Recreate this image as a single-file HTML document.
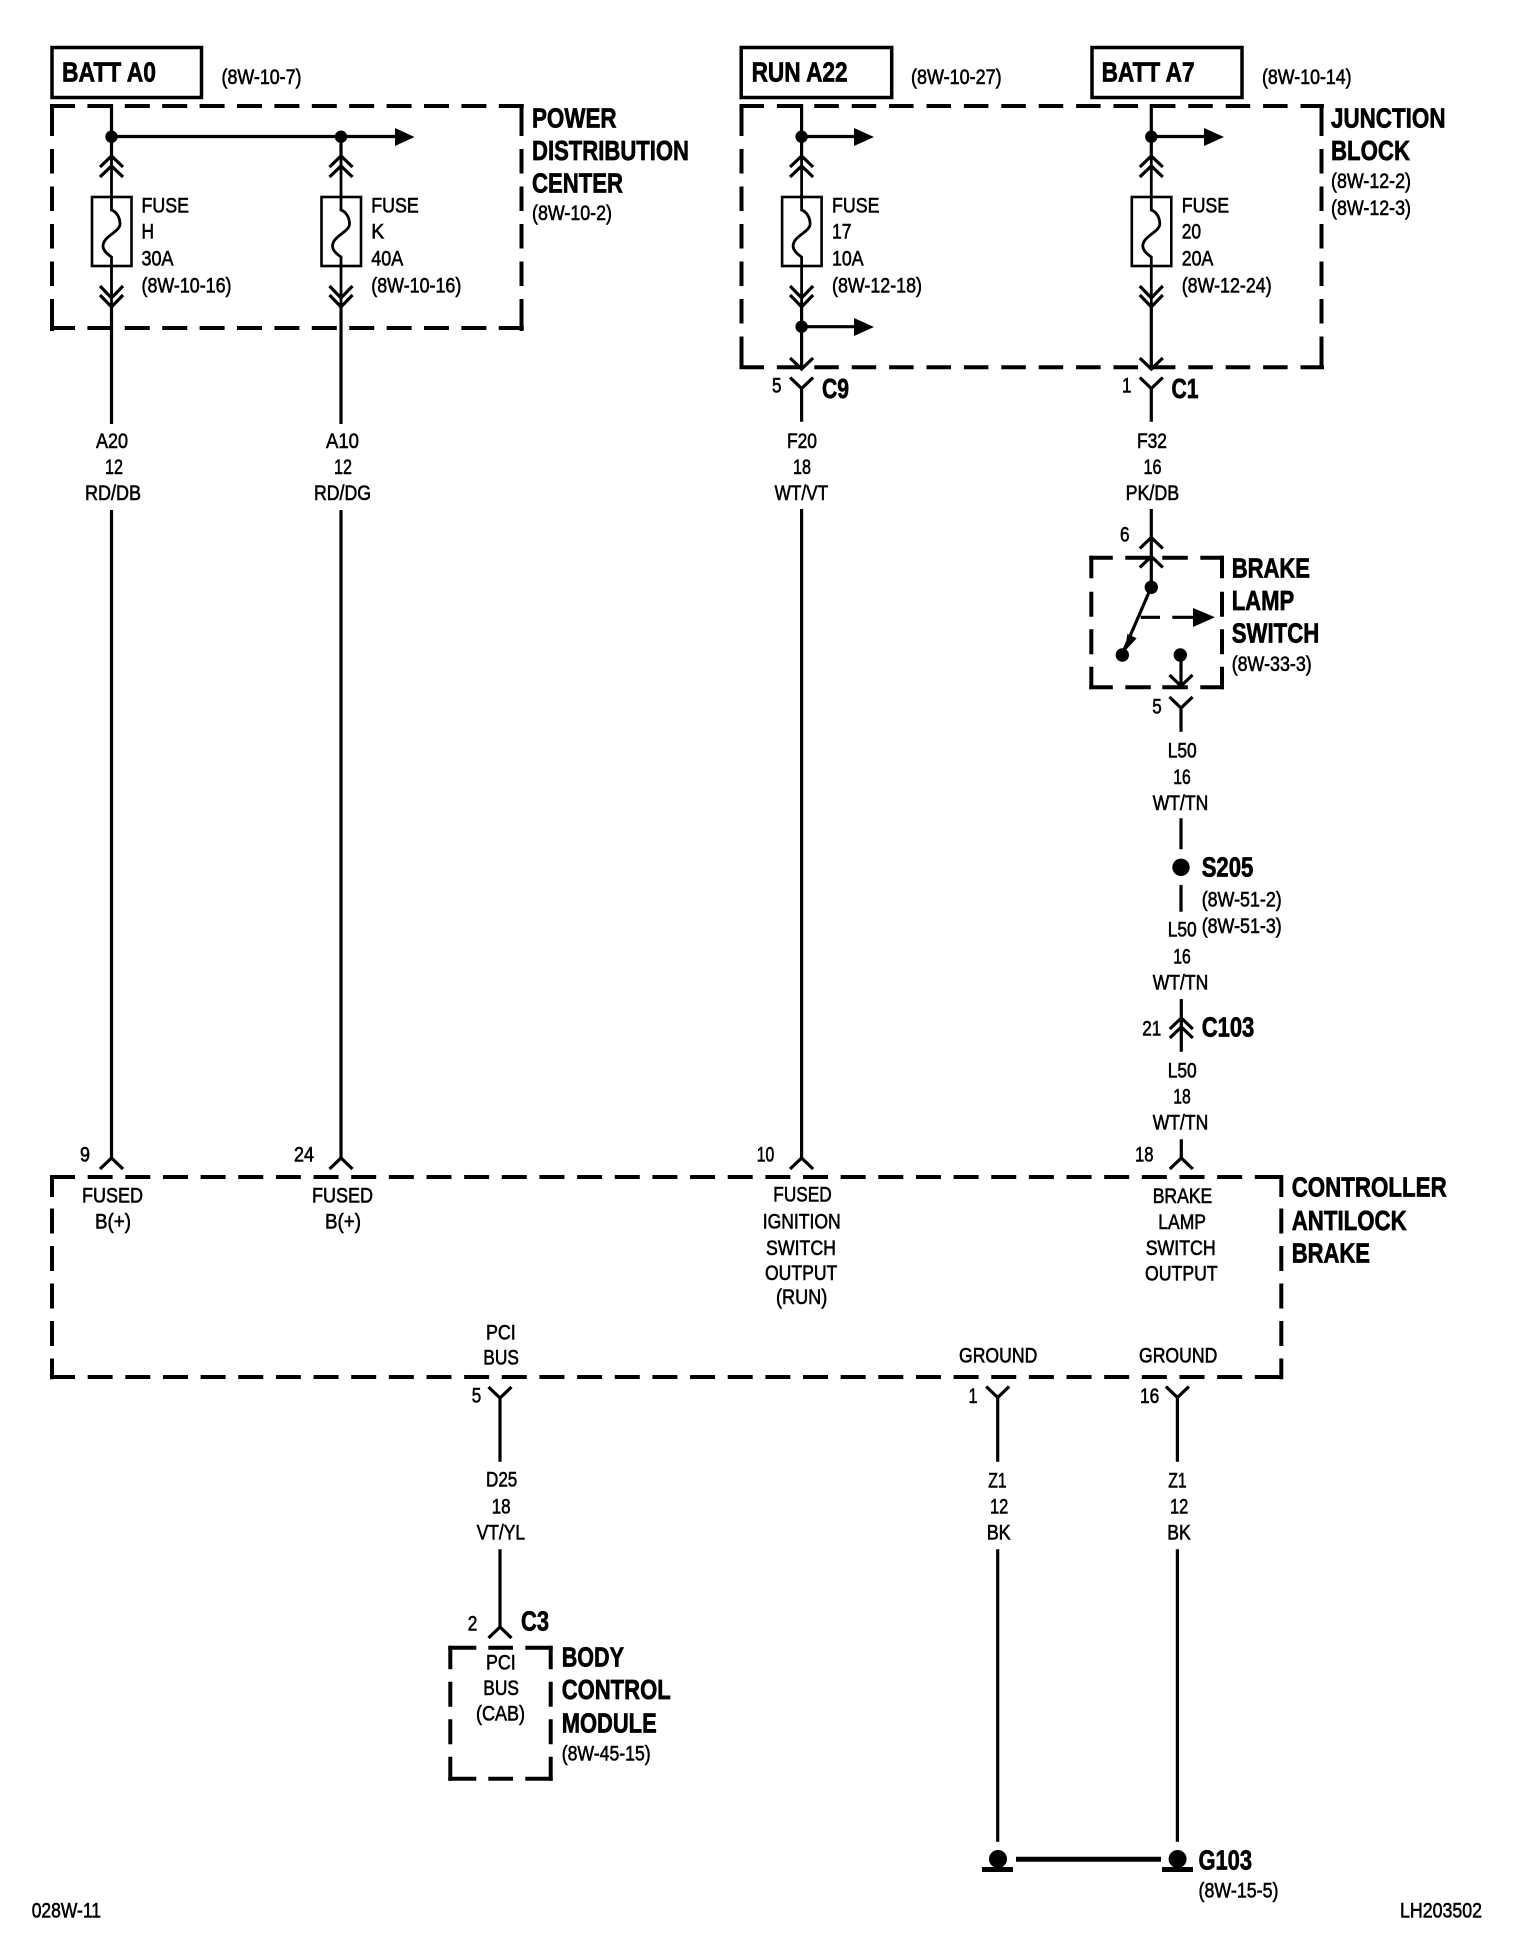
<!DOCTYPE html>
<html><head><meta charset="utf-8"><title>Wiring diagram</title>
<style>
html,body{margin:0;padding:0;background:#fff}
svg{display:block}
text{font-family:"Liberation Sans",Arial,sans-serif;fill:#000}
.b{font-weight:700;font-size:28px;stroke:#000;stroke-width:.7px}
.r{font-size:21.5px;stroke:#000;stroke-width:.6px}
.w{fill:none;stroke:#000;stroke-width:3.200}
.t{fill:none;stroke:#000;stroke-width:4}
</style></head><body>
<svg width="1520" height="1946" viewBox="0 0 1520 1946" xmlns="http://www.w3.org/2000/svg">
<defs>
<path id="u" d="M-11.5 11L0 0L11.5 11" fill="none" stroke="#000" stroke-width="3.200"/>
<path id="d" d="M-11.5 -11L0 0L11.5 -11" fill="none" stroke="#000" stroke-width="3.200"/>
<g id="f">
<rect x="-19.5" y="197" width="39.5" height="69" fill="#fff" stroke="#000" stroke-width="2.600"/>
<path d="M0 156V210C5.500 212 8.500 218 8.500 224C8.500 232-8.500 236-8.500 246C-8.500 250-4.500 254 0 257V307" fill="none" stroke="#000" stroke-width="2.800"/>
<path d="M-11.500 167L0 156L11.500 167M-11.500 177L0 166L11.500 177M-11.500 286L0 298L11.500 286M-11.500 295L0 307L11.500 295" fill="none" stroke="#000" stroke-width="3.200"/>
</g>
</defs>

<!-- top solid boxes -->
<rect x="52" y="47.500" width="149.500" height="50" fill="none" stroke="#000" stroke-width="3.500"/>
<rect x="741.200" y="47.500" width="150.500" height="50" fill="none" stroke="#000" stroke-width="3.500"/>
<rect x="1092" y="47.500" width="150" height="50" fill="none" stroke="#000" stroke-width="3.500"/>

<!-- PDC dashed -->
<path class="t" stroke-dasharray="25 12.4" d="M50 106H524"/>
<path class="t" stroke-dasharray="25 12.4" d="M50 328H524"/>
<path class="t" stroke-dasharray="32 13 24.5 13 24.5 13 24.5 13 24.5 13 32" d="M52 104V331"/>
<path class="t" stroke-dasharray="32 13 24.5 13 24.5 13 24.5 13 24.5 13 32" d="M521.500 104V331"/>

<!-- JB dashed -->
<path class="t" stroke-dasharray="24.5 12.9" d="M739.500 106H1324"/>
<path class="t" stroke-dasharray="24.5 12.9" d="M739.500 367.300H1324"/>
<path class="t" stroke-dasharray="32 13 24.5 13 24.5 13 24.5 13 24.5 13 24.5 13 32" d="M741.500 104V369.500"/>
<path class="t" stroke-dasharray="32 13 24.5 13 24.5 13 24.5 13 24.5 13 24.5 13 32" d="M1321.500 104V369.500"/>

<!-- Switch dashed -->
<path class="t" stroke-dasharray="23.5 12.5 25.500 11.500 25.500 12.500 24" d="M1089.300 557.700H1224"/>
<path class="t" stroke-dasharray="23.5 12.5 25.500 11.500 25.500 12.500 24" d="M1089.300 687.300H1224"/>
<path class="t" stroke-dasharray="22.500 13.500 25 12.500 25 12.500 23" d="M1091.300 555.700V689.300"/>
<path class="t" stroke-dasharray="22.500 13.500 25 12.500 25 12.500 23" d="M1222 555.700V689.300"/>

<!-- CAB dashed -->
<path class="t" stroke-dasharray="25 12.65" d="M50 1177H1283.300"/>
<path class="t" stroke-dasharray="25 12.65" d="M50 1377H1283.300"/>
<path class="t" stroke-dasharray="22 11.500 25 12.500 25 12.500 25 12.500 25 12.500 25" d="M52 1175V1379.300"/>
<path class="t" stroke-dasharray="22 11.500 25 12.500 25 12.500 25 12.500 25 12.500 25" d="M1281.300 1175V1379.300"/>

<!-- BCM dashed -->
<path class="t" stroke-dasharray="28 12 24.700 12.300 28" d="M448.300 1647.700H552.700"/>
<path class="t" stroke-dasharray="28 12 24.700 12.300 28" d="M448.300 1778.700H552.700"/>
<path class="t" stroke-dasharray="23.500 12.500 25 12.500 25 12.500 24" d="M450.300 1645.700V1780.700"/>
<path class="t" stroke-dasharray="23.500 12.500 25 12.500 25 12.500 24" d="M550.700 1645.700V1780.700"/>

<!-- wires -->
<path class="w" d="M111.500 104V156M341 136V156M111.500 307V424M341 307V424M111.500 510V1158M341 510V1158"/>
<path class="w" d="M111.500 136.500H396"/>
<path class="w" d="M801.600 104V156M801.600 307V369M801.600 389V421.700M801.600 509V1158"/>
<path class="w" d="M1151.300 104V156M1151.300 307V369M1151.300 389V421.700M1151.300 509V587"/>
<path class="w" d="M801.600 136.500H855M801.600 326.700H855M1151.300 136.500H1205"/>
<path class="w" d="M1181 655V685M1181 708V731.700M1181 818.300V849.300M1181 885V911.700M1181.300 999V1051.700M1181.300 1139.300V1158"/>
<path class="w" d="M1151.300 587L1124 650"/>
<path class="w" d="M1140.700 617.300H1160M1172.300 617.300H1194"/>
<path class="w" d="M500 1398V1461.700M500 1549.300V1627"/>
<path class="w" d="M997.700 1397V1461.700M997.700 1549.300V1841.700M1177.400 1397V1461.700M1177.400 1549.300V1841.700"/>
<path d="M1016 1859.300H1161" fill="none" stroke="#000" stroke-width="5"/>

<!-- fuses -->
<use href="#f" x="111.500"/>
<use href="#f" x="341"/>
<use href="#f" x="801.600"/>
<use href="#f" x="1151.300"/>

<!-- junction dots + arrowheads -->
<circle cx="111.500" cy="136.700" r="6.200"/>
<circle cx="341" cy="136.700" r="6.200"/>
<circle cx="801.600" cy="136.700" r="6.200"/>
<circle cx="801.600" cy="326.700" r="6.200"/>
<circle cx="1151.300" cy="136.700" r="6.200"/>
<path d="M395 128L414.500 137L395 146Z"/>
<path d="M854 128L874 137L854 146Z"/>
<path d="M854 318L874 327L854 336Z"/>
<path d="M1204 128L1224 137L1204 146Z"/>

<!-- connector chevrons -->
<use href="#d" x="801.600" y="369"/>
<use href="#d" x="801.600" y="388.500"/>
<use href="#d" x="1151.300" y="369"/>
<use href="#d" x="1151.300" y="388.500"/>
<use href="#u" x="1151.300" y="537.500"/>
<use href="#u" x="1151.300" y="556.500"/>
<use href="#d" x="1181" y="686"/>
<use href="#d" x="1181" y="708"/>
<use href="#u" x="1181.300" y="1018"/>
<use href="#u" x="1181.300" y="1027"/>
<use href="#u" x="111.500" y="1158"/>
<use href="#u" x="341" y="1158"/>
<use href="#u" x="801.600" y="1158"/>
<use href="#u" x="1181.300" y="1158"/>
<use href="#d" x="500" y="1398"/>
<use href="#d" x="997.700" y="1397.500"/>
<use href="#d" x="1177.400" y="1397.500"/>
<use href="#u" x="500" y="1627"/>

<!-- switch details -->
<circle cx="1151.300" cy="587.300" r="6.700"/>
<circle cx="1122.300" cy="655" r="6.700"/>
<circle cx="1180.300" cy="655" r="6.700"/>
<path d="M1125 651L1127.300 634L1136.700 638.300Z"/>
<path d="M1193 608L1215 617.300L1193 627Z"/>
<circle cx="1181" cy="867.300" r="8.700"/>

<!-- ground -->
<circle cx="998" cy="1859" r="9"/>
<rect x="982" y="1867" width="31" height="5"/>
<circle cx="1177.600" cy="1859" r="9"/>
<rect x="1162" y="1867" width="31" height="5"/>

<!-- bold titles -->
<text class="b" x="62" y="81.700" textLength="94" lengthAdjust="spacingAndGlyphs">BATT A0</text>
<text class="b" x="751.600" y="81.700" textLength="96" lengthAdjust="spacingAndGlyphs">RUN A22</text>
<text class="b" x="1101.600" y="81.700" textLength="93" lengthAdjust="spacingAndGlyphs">BATT A7</text>
<text class="b" x="532" y="127.300" textLength="84.600" lengthAdjust="spacingAndGlyphs">POWER</text>
<text class="b" x="532" y="160" textLength="157" lengthAdjust="spacingAndGlyphs">DISTRIBUTION</text>
<text class="b" x="532" y="192.300" textLength="91" lengthAdjust="spacingAndGlyphs">CENTER</text>
<text class="b" x="1331" y="127.300" textLength="114.500" lengthAdjust="spacingAndGlyphs">JUNCTION</text>
<text class="b" x="1331" y="160" textLength="79" lengthAdjust="spacingAndGlyphs">BLOCK</text>
<text class="b" x="822" y="398" textLength="27" lengthAdjust="spacingAndGlyphs">C9</text>
<text class="b" x="1171.500" y="398" textLength="27" lengthAdjust="spacingAndGlyphs">C1</text>
<text class="b" x="1231.700" y="577.700" textLength="78.300" lengthAdjust="spacingAndGlyphs">BRAKE</text>
<text class="b" x="1231.700" y="610" textLength="62.600" lengthAdjust="spacingAndGlyphs">LAMP</text>
<text class="b" x="1231.700" y="642.700" textLength="87.600" lengthAdjust="spacingAndGlyphs">SWITCH</text>
<text class="b" x="1201.700" y="876.700" textLength="51.600" lengthAdjust="spacingAndGlyphs">S205</text>
<text class="b" x="1201.700" y="1036.700" textLength="52.600" lengthAdjust="spacingAndGlyphs">C103</text>
<text class="b" x="1291.700" y="1196.700" textLength="155" lengthAdjust="spacingAndGlyphs">CONTROLLER</text>
<text class="b" x="1291.700" y="1230" textLength="115" lengthAdjust="spacingAndGlyphs">ANTILOCK</text>
<text class="b" x="1291.700" y="1262.300" textLength="78.300" lengthAdjust="spacingAndGlyphs">BRAKE</text>
<text class="b" x="521" y="1630.700" textLength="28" lengthAdjust="spacingAndGlyphs">C3</text>
<text class="b" x="561.700" y="1666.700" textLength="62.300" lengthAdjust="spacingAndGlyphs">BODY</text>
<text class="b" x="561.700" y="1699" textLength="109" lengthAdjust="spacingAndGlyphs">CONTROL</text>
<text class="b" x="561.700" y="1732.300" textLength="95" lengthAdjust="spacingAndGlyphs">MODULE</text>
<text class="b" x="1198.500" y="1869.300" textLength="53.500" lengthAdjust="spacingAndGlyphs">G103</text>

<!-- regular: references -->
<text class="r" x="221.500" y="84" textLength="80" lengthAdjust="spacingAndGlyphs">(8W-10-7)</text>
<text class="r" x="911" y="84" textLength="90.600" lengthAdjust="spacingAndGlyphs">(8W-10-27)</text>
<text class="r" x="1262" y="84" textLength="89.600" lengthAdjust="spacingAndGlyphs">(8W-10-14)</text>
<text class="r" x="532" y="220" textLength="80" lengthAdjust="spacingAndGlyphs">(8W-10-2)</text>
<text class="r" x="1331" y="188" textLength="80" lengthAdjust="spacingAndGlyphs">(8W-12-2)</text>
<text class="r" x="1331" y="215" textLength="80" lengthAdjust="spacingAndGlyphs">(8W-12-3)</text>
<text class="r" x="1231.700" y="671" textLength="80" lengthAdjust="spacingAndGlyphs">(8W-33-3)</text>
<text class="r" x="1201.700" y="906.700" textLength="80" lengthAdjust="spacingAndGlyphs">(8W-51-2)</text>
<text class="r" x="1201.700" y="933" textLength="80" lengthAdjust="spacingAndGlyphs">(8W-51-3)</text>
<text class="r" x="561.700" y="1760.700" textLength="89" lengthAdjust="spacingAndGlyphs">(8W-45-15)</text>
<text class="r" x="1198.500" y="1897.300" textLength="80" lengthAdjust="spacingAndGlyphs">(8W-15-5)</text>

<!-- fuse labels -->
<text class="r" x="141.500" y="212.700" textLength="47.500" lengthAdjust="spacingAndGlyphs">FUSE</text>
<text class="r" x="141.500" y="238.700" textLength="12.500" lengthAdjust="spacingAndGlyphs">H</text>
<text class="r" x="141.500" y="265.700" textLength="32" lengthAdjust="spacingAndGlyphs">30A</text>
<text class="r" x="141.500" y="292.300" textLength="90" lengthAdjust="spacingAndGlyphs">(8W-10-16)</text>
<text class="r" x="371.300" y="212.700" textLength="47.500" lengthAdjust="spacingAndGlyphs">FUSE</text>
<text class="r" x="371.300" y="238.700" textLength="13" lengthAdjust="spacingAndGlyphs">K</text>
<text class="r" x="371.300" y="265.700" textLength="32" lengthAdjust="spacingAndGlyphs">40A</text>
<text class="r" x="371.300" y="292.300" textLength="90" lengthAdjust="spacingAndGlyphs">(8W-10-16)</text>
<text class="r" x="832" y="212.700" textLength="47.500" lengthAdjust="spacingAndGlyphs">FUSE</text>
<text class="r" x="832" y="238.700" textLength="19.400" lengthAdjust="spacingAndGlyphs">17</text>
<text class="r" x="832" y="265.700" textLength="31.600" lengthAdjust="spacingAndGlyphs">10A</text>
<text class="r" x="832" y="292.300" textLength="90" lengthAdjust="spacingAndGlyphs">(8W-12-18)</text>
<text class="r" x="1181.700" y="212.700" textLength="47.500" lengthAdjust="spacingAndGlyphs">FUSE</text>
<text class="r" x="1181.700" y="238.700" textLength="19.400" lengthAdjust="spacingAndGlyphs">20</text>
<text class="r" x="1181.700" y="265.700" textLength="31.600" lengthAdjust="spacingAndGlyphs">20A</text>
<text class="r" x="1181.700" y="292.300" textLength="90" lengthAdjust="spacingAndGlyphs">(8W-12-24)</text>

<!-- pin numbers -->
<text class="r" x="772" y="392.700" textLength="9.500" lengthAdjust="spacingAndGlyphs">5</text>
<text class="r" x="1122" y="392.700" textLength="9.500" lengthAdjust="spacingAndGlyphs">1</text>
<text class="r" x="1120" y="541.700" textLength="9.500" lengthAdjust="spacingAndGlyphs">6</text>
<text class="r" x="1152.300" y="713.300" textLength="9.500" lengthAdjust="spacingAndGlyphs">5</text>
<text class="r" x="1142.300" y="1035.700" textLength="19" lengthAdjust="spacingAndGlyphs">21</text>
<text class="r" x="80" y="1161.700" textLength="10" lengthAdjust="spacingAndGlyphs">9</text>
<text class="r" x="294" y="1161.700" textLength="20" lengthAdjust="spacingAndGlyphs">24</text>
<text class="r" x="756.700" y="1161.700" textLength="17.500" lengthAdjust="spacingAndGlyphs">10</text>
<text class="r" x="1135" y="1161.700" textLength="18.500" lengthAdjust="spacingAndGlyphs">18</text>
<text class="r" x="471.700" y="1402.700" textLength="9.500" lengthAdjust="spacingAndGlyphs">5</text>
<text class="r" x="968.500" y="1403" textLength="9" lengthAdjust="spacingAndGlyphs">1</text>
<text class="r" x="1140" y="1403" textLength="19.300" lengthAdjust="spacingAndGlyphs">16</text>
<text class="r" x="467.700" y="1630.700" textLength="9.600" lengthAdjust="spacingAndGlyphs">2</text>

<!-- wire labels -->
<text class="r" x="96" y="448" textLength="32" lengthAdjust="spacingAndGlyphs">A20</text>
<text class="r" x="105" y="474" textLength="18" lengthAdjust="spacingAndGlyphs">12</text>
<text class="r" x="85" y="500" textLength="56" lengthAdjust="spacingAndGlyphs">RD/DB</text>
<text class="r" x="326" y="448" textLength="33" lengthAdjust="spacingAndGlyphs">A10</text>
<text class="r" x="334" y="474" textLength="18" lengthAdjust="spacingAndGlyphs">12</text>
<text class="r" x="314" y="500" textLength="57" lengthAdjust="spacingAndGlyphs">RD/DG</text>
<text class="r" x="787" y="448" textLength="30" lengthAdjust="spacingAndGlyphs">F20</text>
<text class="r" x="793" y="474" textLength="18" lengthAdjust="spacingAndGlyphs">18</text>
<text class="r" x="774.600" y="500" textLength="53.600" lengthAdjust="spacingAndGlyphs">WT/VT</text>
<text class="r" x="1137" y="448" textLength="30" lengthAdjust="spacingAndGlyphs">F32</text>
<text class="r" x="1143.500" y="474" textLength="18" lengthAdjust="spacingAndGlyphs">16</text>
<text class="r" x="1125.600" y="500" textLength="53.600" lengthAdjust="spacingAndGlyphs">PK/DB</text>
<text class="r" x="1167.700" y="757.300" textLength="29" lengthAdjust="spacingAndGlyphs">L50</text>
<text class="r" x="1173.300" y="784" textLength="17.500" lengthAdjust="spacingAndGlyphs">16</text>
<text class="r" x="1152.700" y="810" textLength="55.600" lengthAdjust="spacingAndGlyphs">WT/TN</text>
<text class="r" x="1167.700" y="936.700" textLength="29" lengthAdjust="spacingAndGlyphs">L50</text>
<text class="r" x="1173.300" y="963.300" textLength="17.500" lengthAdjust="spacingAndGlyphs">16</text>
<text class="r" x="1152.700" y="989.300" textLength="55.600" lengthAdjust="spacingAndGlyphs">WT/TN</text>
<text class="r" x="1167.700" y="1077.300" textLength="29" lengthAdjust="spacingAndGlyphs">L50</text>
<text class="r" x="1173.300" y="1103.300" textLength="17.500" lengthAdjust="spacingAndGlyphs">18</text>
<text class="r" x="1152.700" y="1129.300" textLength="55.600" lengthAdjust="spacingAndGlyphs">WT/TN</text>
<text class="r" x="486" y="1486.700" textLength="31.300" lengthAdjust="spacingAndGlyphs">D25</text>
<text class="r" x="491.700" y="1513.300" textLength="19" lengthAdjust="spacingAndGlyphs">18</text>
<text class="r" x="476.700" y="1539.300" textLength="48.300" lengthAdjust="spacingAndGlyphs">VT/YL</text>
<text class="r" x="988.300" y="1487.300" textLength="18.400" lengthAdjust="spacingAndGlyphs">Z1</text>
<text class="r" x="990" y="1513.300" textLength="18.300" lengthAdjust="spacingAndGlyphs">12</text>
<text class="r" x="986.700" y="1539.300" textLength="24" lengthAdjust="spacingAndGlyphs">BK</text>
<text class="r" x="1168.300" y="1487.300" textLength="18.400" lengthAdjust="spacingAndGlyphs">Z1</text>
<text class="r" x="1170" y="1513.300" textLength="18.300" lengthAdjust="spacingAndGlyphs">12</text>
<text class="r" x="1167.300" y="1539.300" textLength="23.400" lengthAdjust="spacingAndGlyphs">BK</text>

<!-- module pin labels -->
<text class="r" x="82" y="1202.500" textLength="61" lengthAdjust="spacingAndGlyphs">FUSED</text>
<text class="r" x="95" y="1228.500" textLength="36" lengthAdjust="spacingAndGlyphs">B(+)</text>
<text class="r" x="312" y="1202.500" textLength="61" lengthAdjust="spacingAndGlyphs">FUSED</text>
<text class="r" x="325" y="1228.500" textLength="36" lengthAdjust="spacingAndGlyphs">B(+)</text>
<text class="r" x="773.300" y="1201.700" textLength="58.400" lengthAdjust="spacingAndGlyphs">FUSED</text>
<text class="r" x="762.700" y="1228.300" textLength="78" lengthAdjust="spacingAndGlyphs">IGNITION</text>
<text class="r" x="766" y="1255" textLength="70" lengthAdjust="spacingAndGlyphs">SWITCH</text>
<text class="r" x="765" y="1280" textLength="72.300" lengthAdjust="spacingAndGlyphs">OUTPUT</text>
<text class="r" x="776" y="1304" textLength="51.300" lengthAdjust="spacingAndGlyphs">(RUN)</text>
<text class="r" x="1152.700" y="1203" textLength="59.600" lengthAdjust="spacingAndGlyphs">BRAKE</text>
<text class="r" x="1158.300" y="1229" textLength="47.700" lengthAdjust="spacingAndGlyphs">LAMP</text>
<text class="r" x="1145.700" y="1255" textLength="70" lengthAdjust="spacingAndGlyphs">SWITCH</text>
<text class="r" x="1145" y="1280.500" textLength="72.700" lengthAdjust="spacingAndGlyphs">OUTPUT</text>
<text class="r" x="486" y="1339.300" textLength="29.700" lengthAdjust="spacingAndGlyphs">PCI</text>
<text class="r" x="483.300" y="1364.300" textLength="35.700" lengthAdjust="spacingAndGlyphs">BUS</text>
<text class="r" x="959" y="1362.700" textLength="78.300" lengthAdjust="spacingAndGlyphs">GROUND</text>
<text class="r" x="1139" y="1362.700" textLength="78.300" lengthAdjust="spacingAndGlyphs">GROUND</text>
<text class="r" x="486" y="1669.300" textLength="29.700" lengthAdjust="spacingAndGlyphs">PCI</text>
<text class="r" x="483.300" y="1695" textLength="35.700" lengthAdjust="spacingAndGlyphs">BUS</text>
<text class="r" x="476" y="1720.700" textLength="49" lengthAdjust="spacingAndGlyphs">(CAB)</text>

<!-- footers -->
<text class="r" x="31.700" y="1917.700" textLength="69.300" lengthAdjust="spacingAndGlyphs">028W-11</text>
<text class="r" x="1400" y="1917.300" textLength="82" lengthAdjust="spacingAndGlyphs">LH203502</text>
</svg>
</body></html>
